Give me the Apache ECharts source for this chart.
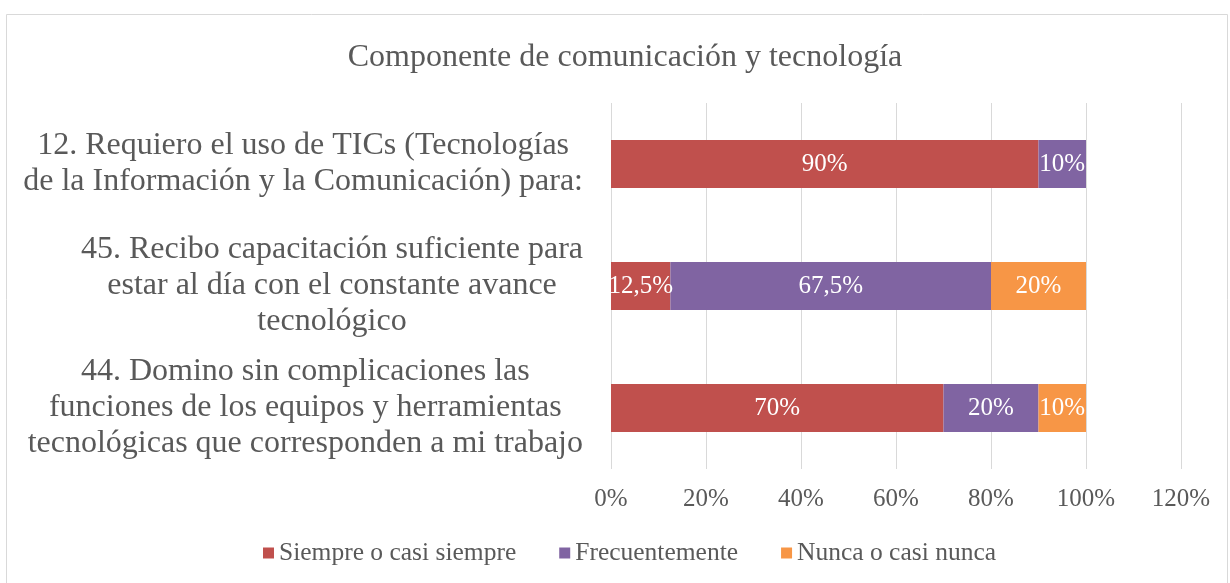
<!DOCTYPE html>
<html>
<head>
<meta charset="utf-8">
<script src="https://cdn.jsdelivr.net/npm/echarts@6/dist/echarts.min.js"></script>
<style>
  html, body { margin: 0; padding: 0; background: #fff; }
  #chart { width: 1230px; height: 583px; }
</style>
</head>
<body>
<div id="chart"></div>
<script>
// preguntas (de arriba a abajo)
var categories = [
  "12. Requiero el uso de TICs (Tecnologías\nde la Información y la Comunicación) para:",
  "45. Recibo capacitación suficiente para\nestar al día con el constante avance\ntecnológico",
  "44. Domino sin complicaciones las\nfunciones de los equipos y herramientas\ntecnológicas que corresponden a mi trabajo"
];
var seriesNames = ["Siempre o casi siempre", "Frecuentemente", "Nunca o casi nunca"];
var siempre = [0.90, 0.125, 0.70];
var frecuente = [0.10, 0.675, 0.20];
var nunca = [0, 0.20, 0.10];
var tickValues = [0, 0.2, 0.4, 0.6, 0.8, 1.0, 1.2];

var colors = ["#C0504D", "#8064A2", "#F79646"];
var serif = "Liberation Serif";

var chart = echarts.init(document.getElementById("chart"));

function pct(v) {
  var s = (Math.round(v * 1000) / 10).toString().replace(".", ",");
  return s + "%";
}

function makeSeries(name, data, color) {
  return {
    name: name,
    type: "bar",
    stack: "total",
    data: data,
    barWidth: 48,
    itemStyle: { color: color },
    label: {
      show: true,
      position: "inside",
      color: "#fff",
      fontFamily: serif,
      fontSize: 25,
      formatter: function (p) {
        return p.value > 0 ? pct(p.value) : "";
      }
    }
  };
}

var option = {
  animation: false,
  title: {
    text: "Componente de comunicación y tecnología",
    left: 620,
    top: 37,
    textAlign: "center",
    textStyle: {
      fontFamily: serif,
      fontWeight: "normal",
      fontSize: 32,
      color: "#595959"
    }
  },
  graphic: [{
    type: "rect",
    shape: { x: 6.5, y: 14.5, width: 1221, height: 600 },
    style: { fill: "none", stroke: "#d9d9d9", lineWidth: 1 },
    silent: true
  }],
  legend: {
    data: seriesNames,
    bottom: 12,
    left: 258,
    itemWidth: 11,
    itemHeight: 11,
    itemGap: 43,
    icon: "rect",
    textStyle: {
      fontFamily: serif,
      fontSize: 25.5,
      color: "#595959"
    }
  },
  grid: {
    left: 611,
    right: 49,
    top: 103,
    bottom: 114,
    containLabel: false
  },
  xAxis: {
    type: "value",
    min: tickValues[0],
    max: tickValues[tickValues.length - 1],
    interval: 0.2,
    axisLine: { show: false },
    axisTick: { show: false },
    splitLine: { show: true, lineStyle: { color: "#d9d9d9", width: 1 } },
    axisLabel: {
      margin: 18,
      fontFamily: serif,
      fontSize: 25,
      color: "#595959",
      formatter: function (v) {
        return Math.round(v * 100) + "%";
      }
    }
  },
  yAxis: {
    type: "category",
    inverse: true,
    data: categories,
    axisLine: { show: false },
    axisTick: { show: false },
    axisLabel: {
      margin: 28,
      align: "right",
      formatter: function (v) {
        return v.split("\n").map(function (l) { return "{c|" + l + "}"; }).join("\n");
      },
      rich: {
        c: {
          align: "center",
          fontFamily: serif,
          fontSize: 32,
          lineHeight: 36,
          color: "#595959"
        }
      }
    }
  },
  series: [
    makeSeries(seriesNames[0], siempre, colors[0]),
    makeSeries(seriesNames[1], frecuente, colors[1]),
    makeSeries(seriesNames[2], nunca, colors[2])
  ]
};

chart.setOption(option);
</script>
</body>
</html>
